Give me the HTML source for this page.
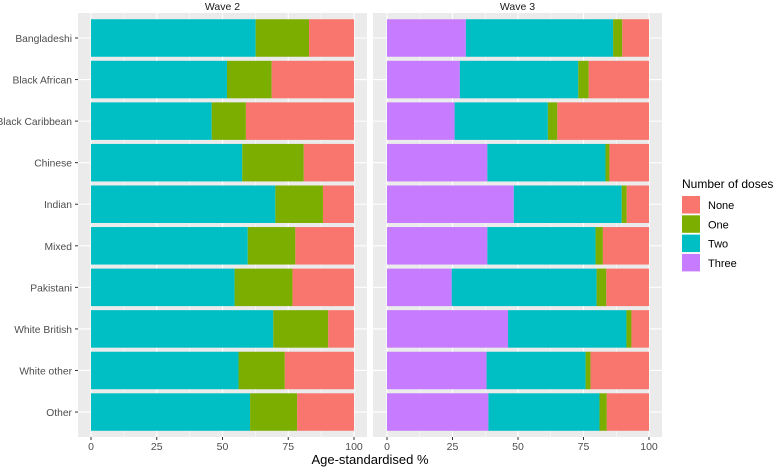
<!DOCTYPE html>
<html><head><meta charset="utf-8"><style>
body{margin:0;background:#fff;}
svg text{font-family:"Liberation Sans",sans-serif;}
</style></head><body>
<svg id="chart" width="777" height="468" viewBox="0 0 777 468" xmlns="http://www.w3.org/2000/svg"></svg>
<script>
const categories=["Bangladeshi","Black African","Black Caribbean","Chinese","Indian","Mixed","Pakistani","White British","White other","Other"];
const w2Two=[62.6,51.7,45.9,57.5,70.1,59.6,54.6,69.3,56.1,60.5];
const w2One=[20.3,17.0,13.0,23.4,18.1,18.1,22.0,20.9,17.6,17.9];
const w3Three=[30.1,27.8,25.8,38.3,48.4,38.3,24.7,46.2,38.0,38.7];
const w3Two=[56.2,45.2,35.6,45.1,41.2,41.3,55.3,45.2,37.8,42.4];
const w3One=[3.5,4.0,3.6,1.5,1.9,2.8,3.7,1.9,1.9,2.8];
const ticks=[0,25,50,75,100];
const legendLabels=["None","One","Two","Three"];
const colors={None:"#F8766D",One:"#7CAE00",Two:"#00BFC4",Three:"#C77CFF"};
const NS="http://www.w3.org/2000/svg";
const svg=document.getElementById('chart');
function mk(t,a,p){const e=document.createElementNS(NS,t);for(const k in a)e.setAttribute(k,a[k]);(p||svg).appendChild(e);return e;}
const panels=[{x0:78,x1:367,z:91,h:354,title:"Wave 2"},{x0:373,x1:662,z:387,h:649,title:"Wave 3"}];
const panelTop=13,panelBot=437,pitch=41.56,c0=38,bh=37.5;
function yC(i){return c0+i*pitch;}
panels.forEach((p,pi)=>{
 const sx=v=>p.z+(p.h-p.z)*v/100;
 const g=mk('g',{});
 
 
 mk('rect',{x:p.x0,y:panelTop,width:p.x1-p.x0,height:panelBot-panelTop,fill:'#EBEBEB'},g);
 for(let k=0;k<ticks.length-1;k++){const m=(ticks[k]+ticks[k+1])/2;mk('line',{x1:sx(m),x2:sx(m),y1:panelTop,y2:panelBot,stroke:'#fff','stroke-width':0.5},g);}
 ticks.forEach(t=>mk('line',{x1:sx(t),x2:sx(t),y1:panelTop,y2:panelBot,stroke:'#fff','stroke-width':1.1},g));
 categories.forEach((c,i)=>mk('line',{x1:p.x0,x2:p.x1,y1:yC(i),y2:yC(i),stroke:'#fff','stroke-width':1.1},g));
 categories.forEach((c,i)=>{
  let segs;
  if(pi===0){segs=[["Two",w2Two[i]],["One",w2One[i]],["None",100-w2Two[i]-w2One[i]]];}
  else{segs=[["Three",w3Three[i]],["Two",w3Two[i]],["One",w3One[i]],["None",100-w3Three[i]-w3Two[i]-w3One[i]]];}
  let acc=0;
  segs.forEach(s=>{
   const r=mk('rect',{x:sx(acc),y:yC(i)-bh/2,width:sx(acc+s[1])-sx(acc),height:bh,fill:colors[s[0]]},g);
   
   
   acc+=s[1];
  });
 });
 ticks.forEach(t=>{
  mk('line',{x1:sx(t),x2:sx(t),y1:panelBot,y2:panelBot+3,stroke:'#333'},g);
  const tx=mk('text',{x:sx(t),y:panelBot+13,'font-size':10.5,fill:'#4D4D4D','text-anchor':'middle'},g);tx.textContent=t;
  
  
 });
 const st=mk('text',{x:(p.x0+p.x1)/2,y:10,'font-size':10.5,fill:'#1A1A1A','text-anchor':'middle'},g);st.textContent=p.title;
 
 
});
categories.forEach((c,i)=>{
 mk('line',{x1:75,x2:78,y1:yC(i),y2:yC(i),stroke:'#333'});
 const t=mk('text',{x:72,y:yC(i)+4,'font-size':10.3,fill:'#4D4D4D','text-anchor':'end'});t.textContent=c;
 
 
});
const xt=mk('text',{x:370,y:464,'font-size':13,fill:'#000','text-anchor':'middle'});xt.textContent="Age-standardised %";


const lt=mk('text',{x:682,y:188,'font-size':12,fill:'#000'});lt.textContent="Number of doses";


legendLabels.forEach((l,i)=>{
 const y=196+i*19.3;
 const r=mk('rect',{x:682,y:y,width:18,height:17.5,fill:colors[l]});
 
 
 const t=mk('text',{x:708,y:y+13,'font-size':11,fill:'#000'});t.textContent=l;
 
 
});
</script>
</body></html>
